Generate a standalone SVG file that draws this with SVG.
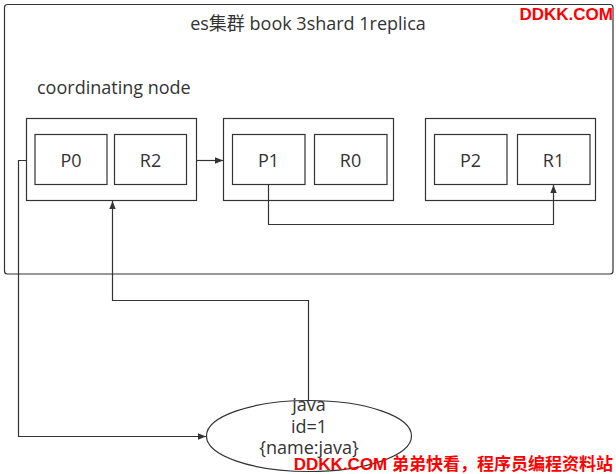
<svg xmlns="http://www.w3.org/2000/svg" width="616" height="474" viewBox="0 0 616 474">
<defs>
<marker id="arr" viewBox="0 0 10 10" refX="10" refY="5" markerWidth="8" markerHeight="8" markerUnits="userSpaceOnUse" orient="auto">
<path d="M0,1 L10,5 L0,9 Z" fill="#333"/>
</marker>
</defs>
<style>
.box{fill:#fff;stroke:#333;stroke-width:1.2}
.t{font-family:"Open Sans","Noto Sans CJK SC",sans-serif;font-size:18px;fill:#333}
.c{text-anchor:middle}
.ln{fill:none;stroke:#333;stroke-width:1.2}
.wm{font-family:"Liberation Sans","Noto Sans CJK SC",sans-serif;font-weight:bold;font-size:17px;fill:#f00}
</style>
<rect width="616" height="474" fill="#fff"/>
<g id="cluster">
<rect x="4.5" y="4.5" width="608.5" height="269.5" rx="3" class="box"/>
<text x="308" y="30" class="t c">es集群 book 3shard 1replica</text>
<text x="37" y="94" class="t">coordinating node</text>
</g>
<g id="node1">
<rect x="26.5" y="118.5" width="170" height="82" class="box"/>
<rect x="35" y="134.5" width="72" height="50" class="box"/>
<text x="71" y="166.5" class="t c">P0</text>
<rect x="114.5" y="134.5" width="72" height="50" class="box"/>
<text x="150.5" y="166.5" class="t c">R2</text>
</g>
<g id="node2">
<rect x="223.5" y="118.5" width="170" height="82" class="box"/>
<rect x="232.5" y="134.5" width="72.5" height="50" class="box"/>
<text x="268.5" y="166.5" class="t c">P1</text>
<rect x="314.5" y="134.5" width="72.5" height="50" class="box"/>
<text x="350.5" y="166.5" class="t c">R0</text>
</g>
<g id="node3">
<rect x="425.5" y="118.5" width="170" height="82" class="box"/>
<rect x="434.5" y="134.5" width="72.5" height="50" class="box"/>
<text x="470.5" y="166.5" class="t c">P2</text>
<rect x="517.5" y="134.5" width="72.5" height="50" class="box"/>
<text x="553.5" y="166.5" class="t c">R1</text>
</g>
<g id="doc">
<ellipse cx="309" cy="436" rx="102.5" ry="35.5" class="box"/>
<text x="309" y="411" class="t c">java</text>
<text x="309" y="433" class="t c">id=1</text>
<text x="309" y="454" class="t c">{name:java}</text>
</g>
<g id="connectors">
<path d="M196.5,160.5 H223" class="ln" marker-end="url(#arr)"/>
<path d="M268.5,184.5 V224.5 H553.5 V185" class="ln" marker-end="url(#arr)"/>
<path d="M26.5,160.5 H18.5 V436.5 H206" class="ln" marker-end="url(#arr)"/>
<path d="M308.5,400.5 V300.5 H112.5 V201" class="ln" marker-end="url(#arr)"/>
</g>
<g id="watermark">
<text x="613" y="20" class="wm" text-anchor="end">DDKK.COM</text>
<text x="613" y="470" class="wm" text-anchor="end">DDKK.COM 弟弟快看，程序员编程资料站</text>
</g>
</svg>
